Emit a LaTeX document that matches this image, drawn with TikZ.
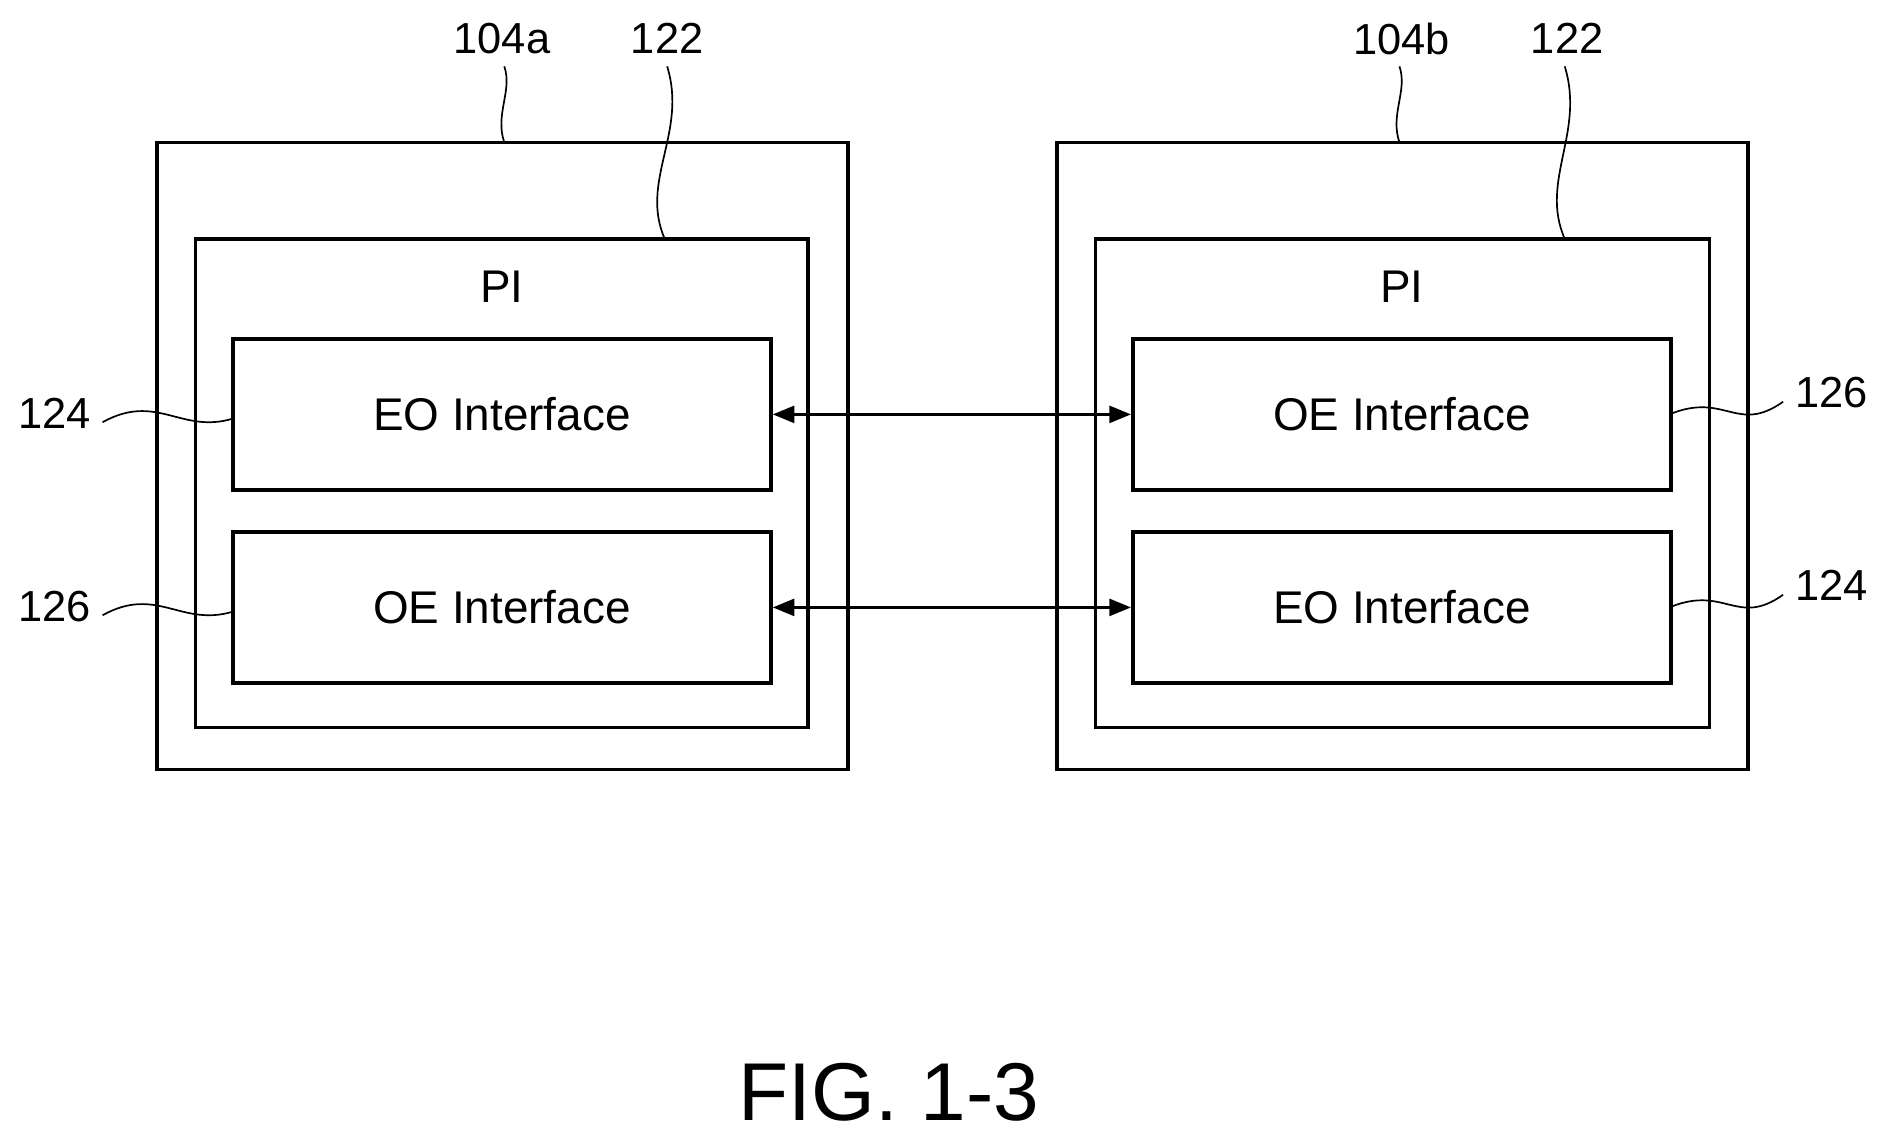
\documentclass[tikz,border=0pt]{standalone}
\usepackage{fontspec}
\setmainfont{Liberation Sans}
\usetikzlibrary{arrows.meta}
\begin{document}
\begin{tikzpicture}[x=0.5pt,y=-0.5pt,
 box/.style={draw,line width=1.5pt},
 lbl/.style={font=\fontsize{19}{19}\selectfont},
 num/.style={font=\fontsize{18}{18}\selectfont},
 lead/.style={line width=0.7pt},
 arr/.style={line width=1.3pt,{Triangle[length=9pt,width=7pt]}-{Triangle[length=9pt,width=7pt]}}]
\useasboundingbox (0,0) rectangle (1560,945);
% left
\draw[box] (130,118) rectangle (703,638);
\draw[box] (162,198) rectangle (670,603);
\node[lbl] (pia) at (416,238) {PI};
\node[box,minimum width=223pt,minimum height=62.5pt,lbl] (eoa) at (416,343.5) {EO Interface};
\node[box,minimum width=223pt,minimum height=62.5pt,lbl] (oea) at (416,503.5) {OE Interface};
% right
\draw[box] (876,118) rectangle (1449,638);
\draw[box] (908,198) rectangle (1417,603);
\node[lbl] (pib) at (1162,238) {PI};
\node[box,minimum width=223pt,minimum height=62.5pt,lbl] (oeb) at (1162,343.5) {OE Interface};
\node[box,minimum width=223pt,minimum height=62.5pt,lbl] (eob) at (1162,503.5) {EO Interface};
\draw[arr] (eoa.east) -- (oeb.west);
\draw[arr] (oea.east) -- (eob.west);
% labels
\node[num] (l1) at (416,32) {104a};
\node[num] (l2) at (553,32) {122};
\node[num] (l3) at (1162,32) {104b};
\node[num] (l4) at (1299,32) {122};
\node[num] (l5) at (45,343) {124};
\node[num] (l6) at (45,503) {126};
\node[num] (l7) at (1518,325) {126};
\node[num] (l8) at (1518,485) {124};
\draw[lead] (418,55) .. controls (425,75) and (410,95) .. (418,118);
\draw[lead] (553,55) .. controls (570,110) and (530,150) .. (551,198);
\draw[lead] (1160,55) .. controls (1167,75) and (1152,95) .. (1160,118);
\draw[lead] (1297,55) .. controls (1314,110) and (1276,150) .. (1297,198);
\draw[lead] (85,350) .. controls (130,325) and (150,360) .. (193,347);
\draw[lead] (85,510) .. controls (130,485) and (150,520) .. (193,507);
\draw[lead] (1385,343) .. controls (1430,325) and (1440,360) .. (1478,333);
\draw[lead] (1385,503) .. controls (1430,485) and (1440,520) .. (1478,493);
\node[font=\fontsize{34}{34}\selectfont] (fig) at (737,905) {FIG. 1-3};
\end{tikzpicture}
\end{document}
